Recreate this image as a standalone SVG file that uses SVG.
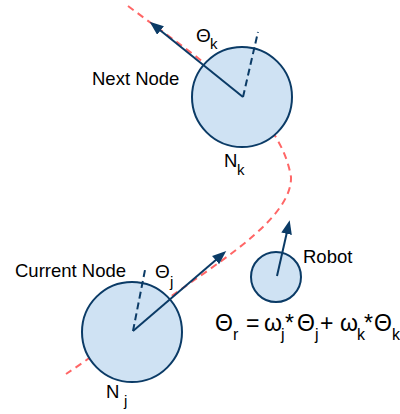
<svg xmlns="http://www.w3.org/2000/svg" width="400" height="414" viewBox="0 0 400 414">
<style>
.node{fill:#cfe2f3;stroke:#0b3b66;stroke-width:2}
.vec{stroke:#0b3b66;stroke-width:2;fill:none}
.ref{stroke:#0b3b66;stroke-width:2;fill:none;stroke-dasharray:7 4}
.route{stroke:#ff6666;stroke-width:2;fill:none;stroke-dasharray:7 5}
text{font-family:"Liberation Sans",Arial,sans-serif;fill:#000}
.lbl{font-size:18.5px}
.th{font-size:19px}
.sub{font-size:15px}
.eq{font-size:23px}
.eqs{font-size:16px}
</style>
<defs>
<marker id="ah" markerUnits="userSpaceOnUse" markerWidth="14" markerHeight="11" refX="6" refY="5" orient="auto" viewBox="0 0 13 10">
<path d="M0,0 L13,5 L0,10 z" fill="#0b3b66"/>
</marker>
</defs>
<g id="route">
<path class="route" d="M128,6 C200,60 280,110 291,177 C292,215 230,255 180,290 C150,311 110,345 66,374"/>
</g>
<g id="node-next">
<circle class="node" cx="242" cy="97" r="50"/>
<line class="ref" x1="243" y1="97" x2="258" y2="32"/>
<text class="lbl" x="92" y="85">Next Node</text>
<text class="lbl" x="224" y="167">N</text><text class="sub" x="237" y="175">k</text>
</g>
<g id="node-current">
<circle class="node" cx="132" cy="332" r="50"/>
<line class="ref" x1="133" y1="331" x2="145" y2="270"/>
<text class="lbl" x="15" y="277">Current Node</text>
<text class="lbl" x="106" y="398">N</text><text class="sub" x="124" y="406">j</text>
</g>
<g id="node-robot">
<circle class="node" cx="276" cy="277" r="25"/>
<text class="lbl" x="303" y="263">Robot</text>
</g>
<g id="connectors">
<line class="vec" x1="243" y1="97" x2="155.5" y2="26.5" marker-end="url(#ah)"/>
<line class="vec" x1="133" y1="331" x2="220.5" y2="255.9" marker-end="url(#ah)"/>
<line class="vec" x1="277" y1="276" x2="288" y2="227.5" marker-end="url(#ah)"/>
</g>
<g id="labels">
<text class="th" x="196" y="42">Θ</text><text class="sub" x="210" y="49">k</text>
<text class="th" x="155" y="278">Θ</text><text class="sub" x="170" y="287">j</text>
<text class="eq" x="215" y="331">Θ</text><text class="eqs" x="233" y="340">r</text>
<text class="eq" x="246" y="331">=</text>
<text class="eq" x="264" y="331">ω</text><text class="eqs" x="281" y="340">j</text>
<text class="eq" x="285" y="331">*</text>
<text class="eq" x="297" y="331">Θ</text><text class="eqs" x="315" y="340">j</text>
<text class="eq" x="320" y="331">+</text>
<text class="eq" x="340" y="331">ω</text><text class="eqs" x="357" y="340">k</text>
<text class="eq" x="364" y="331">*</text>
<text class="eq" x="374" y="331">Θ</text><text class="eqs" x="392" y="340">k</text>
</g>
</svg>
